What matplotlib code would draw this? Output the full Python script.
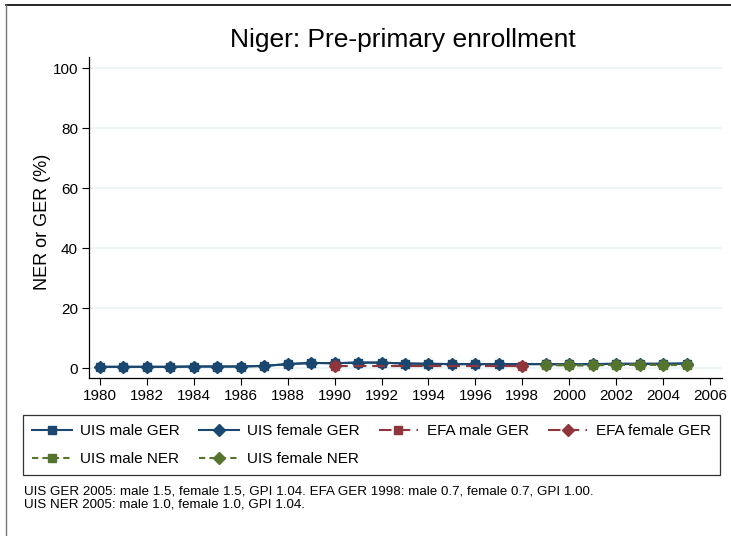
import matplotlib
matplotlib.use("Agg")
import matplotlib.pyplot as plt
from matplotlib.lines import Line2D
import numpy as np

plt.rcParams['font.family'] = ['Liberation Sans', 'DejaVu Sans']

# UIS gross enrolment, 1980-2005
uis_years = list(range(1980, 2006))
uis_male_ger = [0.4, 0.4, 0.4, 0.4, 0.5, 0.5, 0.5, 0.7, 1.3, 1.7, 1.6, 1.8, 1.8,
                1.5, 1.4, 1.3, 1.3, 1.3, np.nan, 1.3, 1.2, 1.3, 1.4, 1.4, 1.4, 1.5]
uis_female_ger = [0.4, 0.4, 0.4, 0.4, 0.5, 0.5, 0.5, 0.7, 1.3, 1.7, 1.6, 1.8, 1.8,
                  1.5, 1.4, 1.3, 1.3, 1.3, np.nan, 1.3, 1.2, 1.3, 1.4, 1.4, 1.4, 1.5]
# EFA gross enrolment
efa_years = [1990, 1998]
efa_male_ger = [0.7, 0.7]
efa_female_ger = [0.7, 0.7]
# UIS net enrolment
ner_years = [1999, 2000, 2001, 2002, 2003, 2004, 2005]
uis_male_ner = [1.0, 0.9, 0.9, 1.1, 1.1, 1.0, 1.0]
uis_female_ner = [1.0, 0.9, 0.9, 1.1, 1.1, 1.0, 1.0]

xticks = list(range(1980, 2008, 2))
yticks = [0, 20, 40, 60, 80, 100]

title = "Niger: Pre-primary enrollment"
ylabel = "NER or GER (%)"
note = ("UIS GER 2005: male 1.5, female 1.5, GPI 1.04. EFA GER 1998: male 0.7, female 0.7, GPI 1.00.\n"
        "UIS NER 2005: male 1.0, female 1.0, GPI 1.04.")

blue = "#1a476f"
red = "#90353b"
green = "#55752f"
grid_c = "#eaf2f3"

W, H = 731, 536
fig = plt.figure(figsize=(W / 100, H / 100), dpi=100)
fig.patch.set_facecolor("white")

def fx(px):
    return px / W

def fy(py):
    return 1 - py / H

ax = fig.add_axes([fx(89), fy(378), fx(722) - fx(89), fy(57) - fy(378)])
ax.set_xlim(1979.53, 2006.51)
ax.set_ylim(-3.33, 103.67)

ms = 6.2
lw = 1.5
# uis ger: connect across the missing year
uy = np.array(uis_years)
m = ~np.isnan(np.array(uis_male_ger))
ax.plot(uy[m], np.array(uis_male_ger)[m], color=blue, lw=lw, marker="s", ms=ms, zorder=3)
f = ~np.isnan(np.array(uis_female_ger))
ax.plot(uy[f], np.array(uis_female_ger)[f], color=blue, lw=lw, marker="D", ms=ms, zorder=3)
ax.plot(efa_years, efa_male_ger, color=red, lw=lw, marker="s", ms=ms, dashes=(6, 3), zorder=4)
ax.plot(efa_years, efa_female_ger, color=red, lw=lw, marker="D", ms=ms, dashes=(6, 3), zorder=4)
ax.plot(ner_years, uis_male_ner, color=green, lw=lw, marker="s", ms=ms, dashes=(3, 2), zorder=5)
ax.plot(ner_years, uis_female_ner, color=green, lw=lw, marker="D", ms=ms, dashes=(3, 2), zorder=5)

ax.set_xticks(xticks)
ax.set_yticks(yticks)
ax.tick_params(labelsize=11, length=5, width=0.8, direction="out", pad=3)
ax.grid(axis="y", color=grid_c, lw=1.2)
ax.set_axisbelow(True)
for s in ["top", "right"]:
    ax.spines[s].set_visible(False)
for s in ["left", "bottom"]:
    ax.spines[s].set_linewidth(0.9)
ax.set_ylabel(ylabel, fontsize=13)
ax.yaxis.set_label_coords((51 - 89) / 633, (378 - 222) / 321)

fig.text(fx(403), fy(40), title, fontsize=19, ha="center", va="center")

handles = [
    Line2D([], [], color=blue, lw=lw, marker="s", ms=ms),
    Line2D([], [], color=blue, lw=lw, marker="D", ms=ms),
    Line2D([], [], color=red, lw=lw, marker="s", ms=ms, dashes=(6, 3)),
    Line2D([], [], color=red, lw=lw, marker="D", ms=ms, dashes=(6, 3)),
    Line2D([], [], color=green, lw=lw, marker="s", ms=ms, dashes=(3, 2)),
    Line2D([], [], color=green, lw=lw, marker="D", ms=ms, dashes=(3, 2)),
]
labels = ["UIS male GER", "UIS female GER", "EFA male GER", "EFA female GER",
          "UIS male NER", "UIS female NER"]
# matplotlib fills legend columns first, reorder so rows read left to right
order = [0, 4, 1, 5, 2, 3]
leg = fig.legend([handles[i] for i in order], [labels[i] for i in order], ncol=4,
                 loc="upper left", mode="expand",
                 bbox_to_anchor=(fx(23), fy(472), fx(720) - fx(23), fy(415) - fy(472)),
                 fontsize=11, frameon=True, fancybox=False, edgecolor="black",
                 handlelength=2.6, columnspacing=1.5, labelspacing=0.9,
                 borderpad=0.6, handletextpad=0.55, borderaxespad=0)
leg.get_frame().set_linewidth(0.9)

fig.text(fx(24), fy(485), note, fontsize=9.6, ha="left", va="top", linespacing=1.15)

# outer frame
fig.add_artist(Line2D([fx(6), 1], [fy(5), fy(5)], color="black", lw=1.2))
fig.add_artist(Line2D([fx(6), fx(6)], [fy(5), 0], color="#777777", lw=1.0))

fig.savefig("out.png", dpi=100)
